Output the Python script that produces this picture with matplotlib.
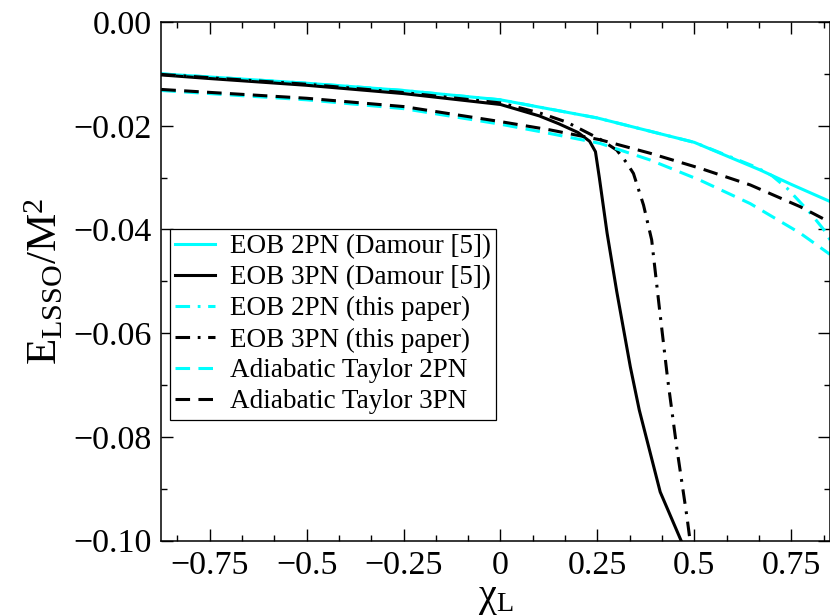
import matplotlib
matplotlib.use("Agg")
import matplotlib.pyplot as plt
from matplotlib.ticker import MultipleLocator, FixedLocator, FuncFormatter

plt.rcParams['font.family'] = ['Liberation Serif', 'DejaVu Serif']
plt.rcParams['mathtext.fontset'] = 'custom'
plt.rcParams['mathtext.rm'] = 'Liberation Serif'
plt.rcParams['mathtext.it'] = 'Liberation Serif:italic'
plt.rcParams['lines.scale_dashes'] = False

# ---- data ----
eob2_damour_x = [-0.875, -0.5, -0.25, 0.0, 0.25, 0.5, 0.669, 0.75, 0.85]
eob2_damour_y = [-0.0100, -0.0118, -0.0132, -0.0150, -0.0185, -0.0232, -0.0285, -0.0313, -0.0346]

eob3_damour_x = [-0.875, -0.75, -0.5, -0.25, 0.0, 0.1, 0.15, 0.2, 0.23, 0.245, 0.255,
                 0.275, 0.30, 0.335, 0.358, 0.412, 0.466]
eob3_damour_y = [-0.0102, -0.0109, -0.0122, -0.0138, -0.0159, -0.0181, -0.0196, -0.0213,
                 -0.0230, -0.0250, -0.0300, -0.0407, -0.0520, -0.0665, -0.0748, -0.0906, -0.1000]

eob2_paper_x = [-0.875, -0.5, -0.25, 0.0, 0.25, 0.5, 0.66, 0.70, 0.74, 0.80, 0.838, 0.85]
eob2_paper_y = [-0.0100, -0.0118, -0.0132, -0.0150, -0.0185, -0.0232, -0.0280, -0.0296,
                -0.0321, -0.0369, -0.0404, -0.0420]

eob3_paper_x = [-0.875, -0.5, -0.25, 0.0, 0.1, 0.171, 0.231, 0.257, 0.300, 0.326, 0.343,
                0.369, 0.390, 0.410, 0.431, 0.455, 0.481, 0.489]
eob3_paper_y = [-0.0101, -0.0120, -0.0136, -0.0156, -0.0175, -0.0193, -0.0216, -0.0226,
                -0.0247, -0.0272, -0.0292, -0.0353, -0.0420, -0.0552, -0.0687, -0.0822,
                -0.0954, -0.1000]

taylor_x = [-0.875, -0.5, -0.25, 0.0, 0.128, 0.257, 0.386, 0.515, 0.644, 0.773, 0.85]
taylor2_y = [-0.0132, -0.0150, -0.0167, -0.0197, -0.0215, -0.0234, -0.0266, -0.0305,
             -0.0350, -0.0407, -0.0448]
taylor3_y = [-0.0130, -0.0147, -0.0163, -0.0192, -0.0208, -0.0227, -0.0253, -0.0282,
             -0.0314, -0.0356, -0.0386]

labels = ["EOB 2PN (Damour [5])", "EOB 3PN (Damour [5])", "EOB 2PN (this paper)",
          "EOB 3PN (this paper)", "Adiabatic Taylor 2PN", "Adiabatic Taylor 3PN"]

x_major = [-0.75, -0.5, -0.25, 0.0, 0.25, 0.5, 0.75]
x_ticklabels = ["\u22120.75", "\u22120.5", "\u22120.25", "0", "0.25", "0.5", "0.75"]

CYAN = "#00FFFF"
LW = 2.2
dash = (0, (10.5, 6.0))
dashdot = (0, (10.5, 5.5, 2.0, 5.5))


def yfmt(v, p):
    s = "%.2f" % v
    if s in ("-0.00", "0.00"):
        return "0.00"
    return s.replace("-", "\u2212")


fig = plt.figure(figsize=(8.3, 6.15), dpi=100)
ax = fig.add_axes([0.1943, 0.1208, 0.8057, 0.8434])

ax.plot(eob2_damour_x, eob2_damour_y, color=CYAN, lw=LW, ls='-', label=labels[0])
ax.plot(eob3_damour_x, eob3_damour_y, color='black', lw=LW, ls='-', label=labels[1])
ax.plot(eob2_paper_x, eob2_paper_y, color=CYAN, lw=LW, ls=dashdot, label=labels[2])
ax.plot(eob3_paper_x, eob3_paper_y, color='black', lw=LW, ls=dashdot, label=labels[3])
ax.plot(taylor_x, taylor2_y, color=CYAN, lw=LW, ls=dash, label=labels[4])
ax.plot(taylor_x, taylor3_y, color='black', lw=LW, ls=dash, label=labels[5])

ax.set_xlim(-0.875, 0.85)
ax.set_ylim(-0.10, 0.0)

ax.xaxis.set_major_locator(FixedLocator(x_major))
ax.set_xticklabels(x_ticklabels)
ax.xaxis.set_minor_locator(MultipleLocator(0.25 / 3))
ax.yaxis.set_major_locator(MultipleLocator(0.02))
ax.yaxis.set_minor_locator(MultipleLocator(0.01))
ax.yaxis.set_major_formatter(FuncFormatter(yfmt))

ax.tick_params(which='both', direction='in', top=True, right=True, width=1.0,
               labelsize=24.5, colors='black')
ax.tick_params(which='major', length=8.5)
ax.tick_params(which='minor', length=4.3)
ax.tick_params(axis='y', which='major', pad=7)
ax.tick_params(axis='x', which='major', pad=7)
for s in ax.spines.values():
    s.set_linewidth(1.1)

ax.set_xlabel(r'$\mathrm{\chi_L}$', fontsize=29, labelpad=-1)
ax.set_ylabel(r'$\mathrm{E_{LSSO}/M^2}$', fontsize=31, labelpad=5)

leg = ax.legend(loc='lower left', bbox_to_anchor=(0.013, 0.233), borderaxespad=0,
                fontsize=19.5, frameon=True, fancybox=False, framealpha=1,
                edgecolor='black', labelspacing=0.22, handlelength=1.45,
                handletextpad=0.55, borderpad=0.2)
leg.get_frame().set_linewidth(0.9)

fig.savefig("out.png", dpi=100)
